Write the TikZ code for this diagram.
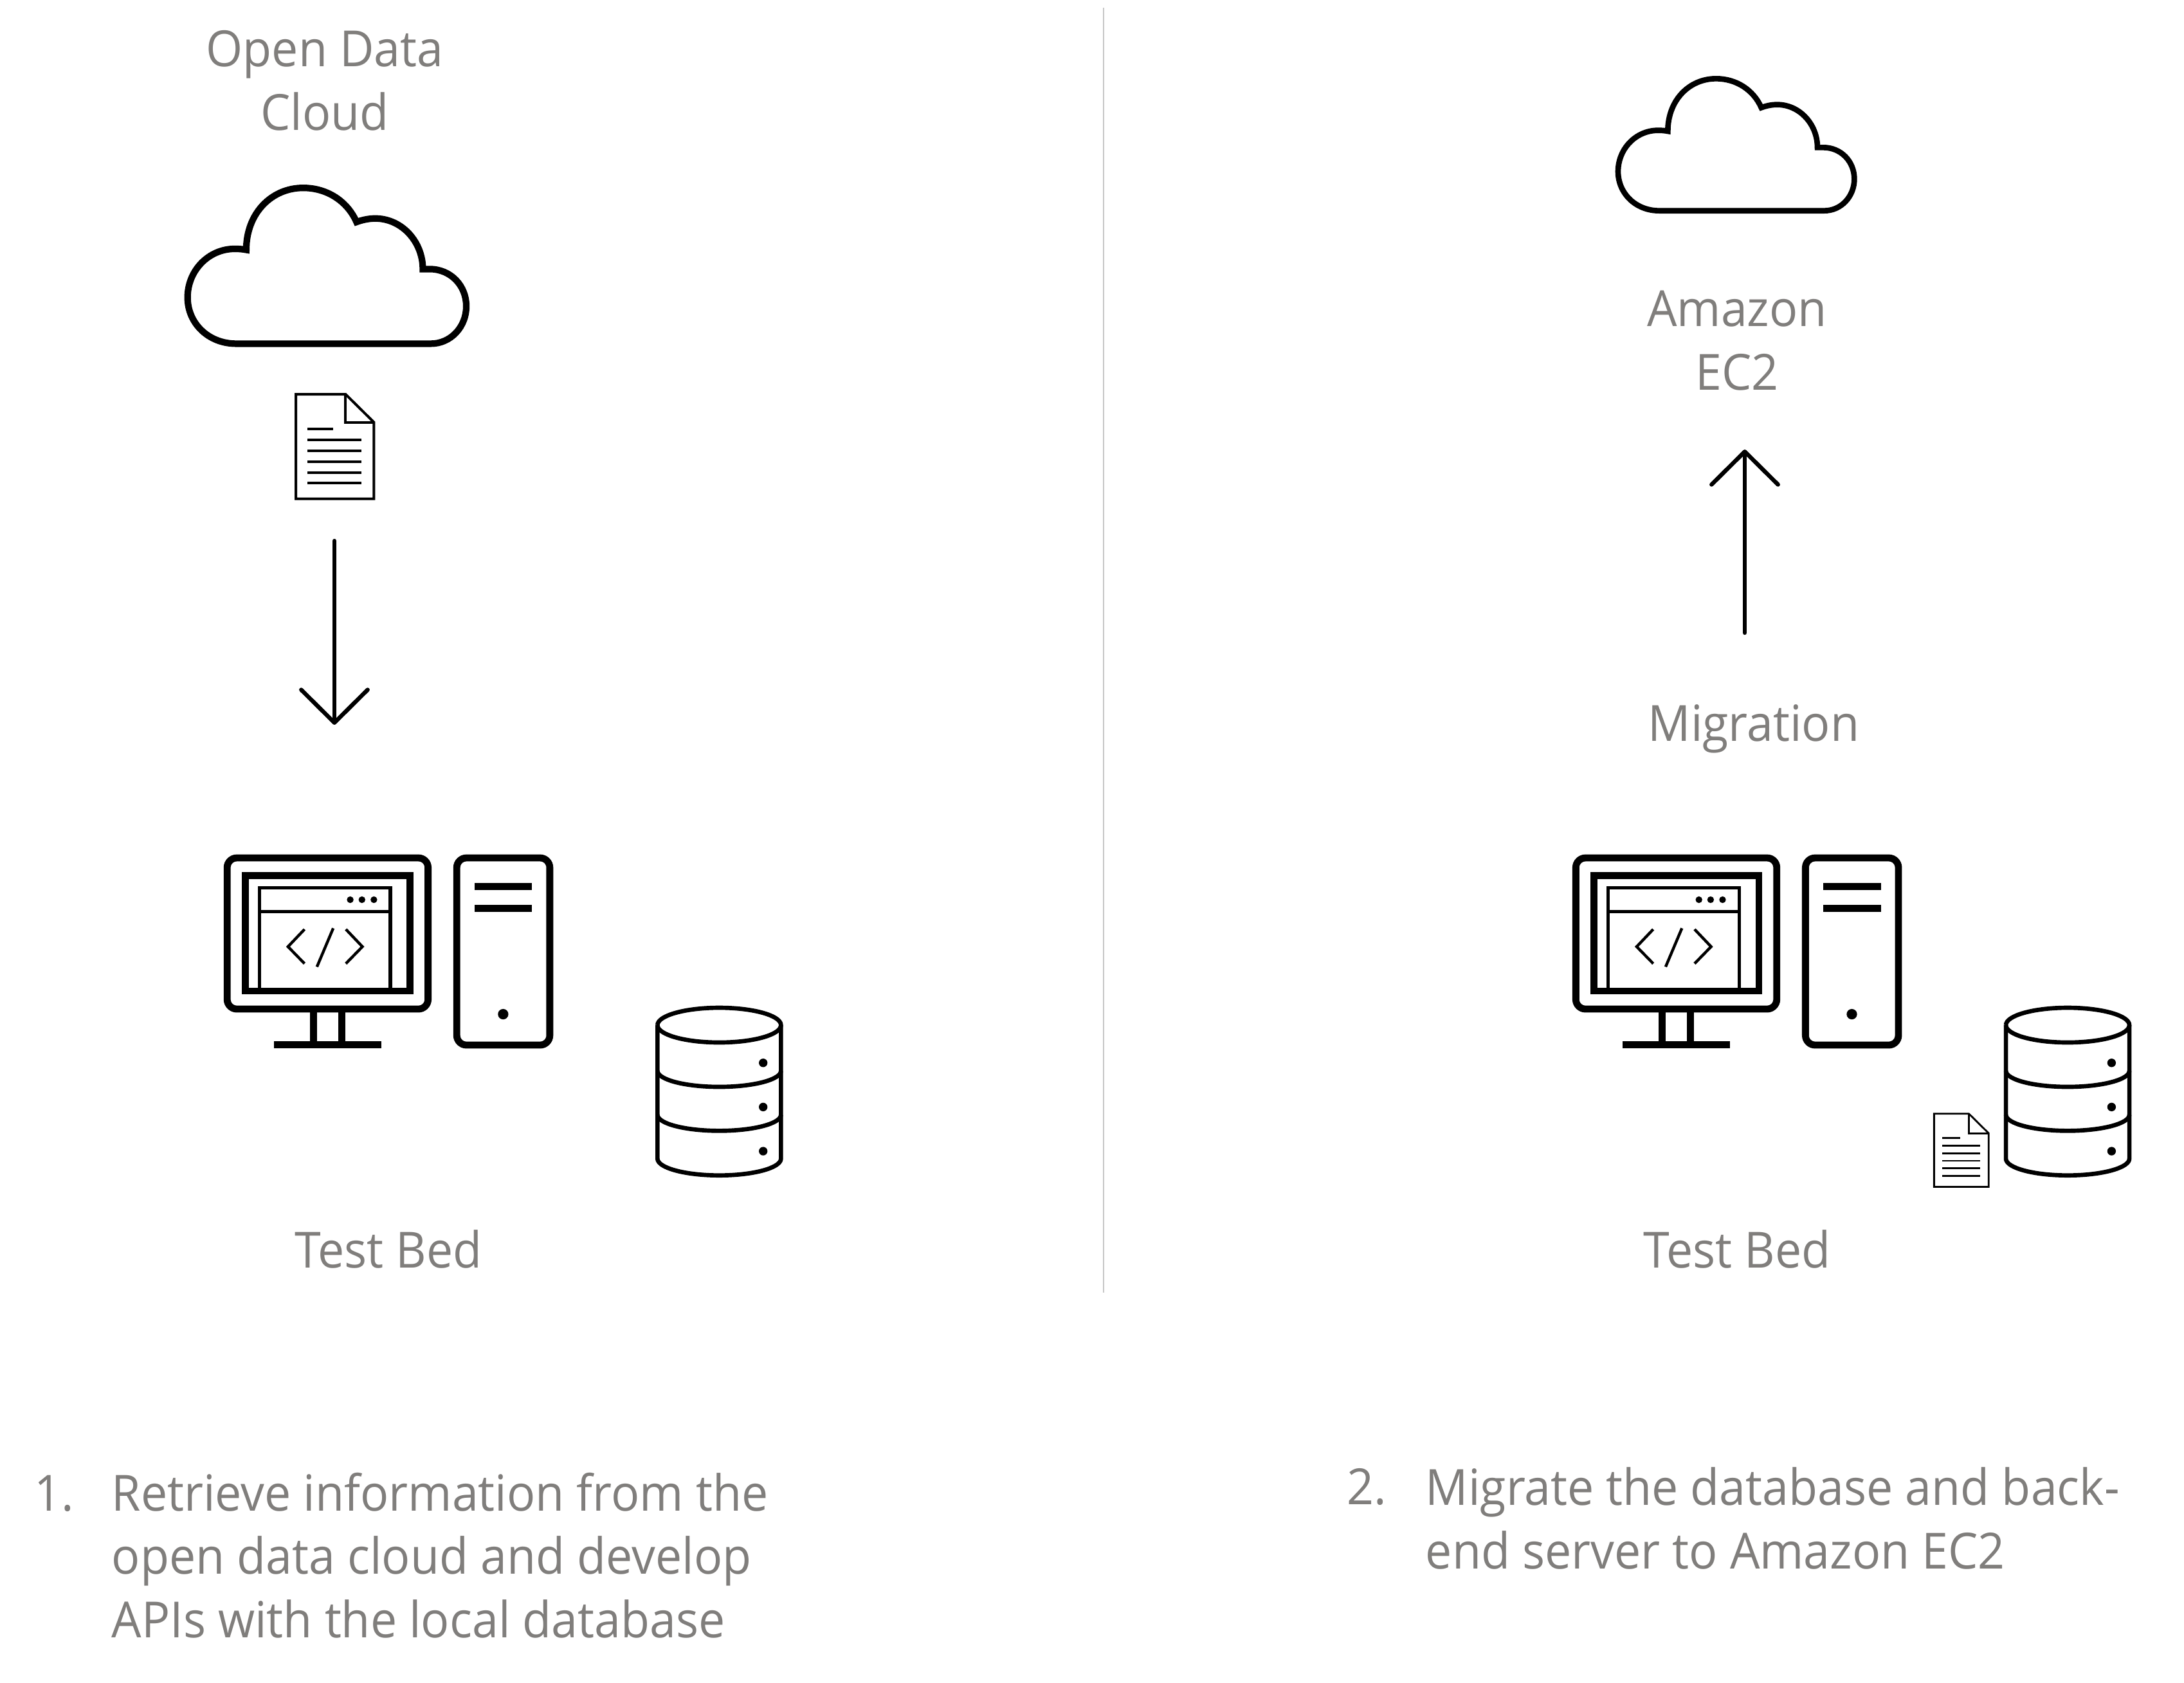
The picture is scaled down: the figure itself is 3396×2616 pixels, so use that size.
\documentclass[tikz,border=0pt]{standalone}
\usepackage{fontspec}
\setmainfont[FakeStretch=0.948]{Open Sans}
\usetikzlibrary{arrows.meta}
\definecolor{txt}{RGB}{128,126,124}
% database icon; local units are 1/3 px
\newcommand{\dbicon}[2]{\begin{scope}[shift={(#1,#2)},x=.08pt,y=-.08pt,line width=1.6pt]
 \draw (127,162) arc[start angle=180,end angle=-180,x radius=288,y radius=81];
 \draw[line join=round] (127,162) -- (127,785) arc[start angle=180,end angle=0,x radius=288,y radius=78] -- (703,162);
 \draw (127,375) arc[start angle=180,end angle=0,x radius=288,y radius=75];
 \draw (127,580) arc[start angle=180,end angle=0,x radius=288,y radius=75];
 \foreach \yy in {338,544,750} \fill (620,\yy) circle[radius=1.6pt];
\end{scope}}
% cloud icon: x0,y0,scale
\newcommand{\cloudicon}[3]{\begin{scope}[shift={(#1,#2)},x=#3*.08pt,y=-#3*.08pt,line width=#3*2.08pt]
 \draw (300,713) -- (1070,713)
  .. controls (1148,713) and (1210,647) .. (1210,565)
  .. controls (1210,483) and (1148,418) .. (1065,418)
  -- (1038,418)
  .. controls (1038,310) and (955,218) .. (850,218)
  .. controls (826,218) and (800,223) .. (776,232)
  .. controls (740,150) and (660,97) .. (565,97)
  .. controls (440,97) and (340,197) .. (340,342)
  .. controls (325,339) and (310,338) .. (295,338)
  .. controls (190,338) and (108,425) .. (108,530)
  .. controls (108,632) and (190,713) .. (300,713) -- cycle;
\end{scope}}
% document icon: x0,y0 (top-left),scale; local units px
\newcommand{\docicon}[3]{\begin{scope}[shift={(#1,#2)},x=#3*.24pt,y=-#3*.24pt,line width=#3*.96pt]
 \draw (0,0) -- (77.3,0) -- (121.3,43.5) -- (121.3,162.5) -- (0,162.5) -- cycle;
 \draw (77.3,0) -- (77.3,44) -- (121.3,44);
 \draw (18.3,54) -- (58.3,54);
 \foreach \yy in {70.9,87.8,104.7,121.5,138.4} \draw (18.3,\yy) -- (102.3,\yy);
\end{scope}}
% computer icon: local x units 1/2.8 px, y units 1/3 px
\newcommand{\pcicon}[2]{\begin{scope}[shift={(#1,#2)},x=.0857pt,y=-.08pt,line width=2.6pt]
 \draw[rounded corners=3.6pt] (65,72) rectangle (940,777);
 \draw (145,155) rectangle (862,693);
 \draw[line width=1.25pt] (206,693) -- (206,212) -- (776,212) -- (776,693);
 \draw[line width=1.25pt] (206,322) -- (776,322);
 \foreach \xx in {601,652,704} \fill (\xx,267) circle[radius=1.25pt];
 \draw[line width=1.05pt] (402,405) -- (330,486) -- (402,565);
 \draw[line width=1.05pt] (527,400) -- (456,580);
 \draw[line width=1.05pt] (582,405) -- (654,486) -- (582,565);
 \draw (441,777) -- (441,930);
 \draw (565,777) -- (565,930);
 \draw[line width=2.7pt] (269,944) -- (737,944);
 \draw[rounded corners=3.6pt] (1065,72) rectangle (1470,945);
 \draw[line width=2.7pt] (1142,206) -- (1393,206);
 \draw[line width=2.7pt] (1142,307) -- (1393,307);
 \fill (1267,801) circle[radius=1.95pt];
\end{scope}}
\begin{document}
\begin{tikzpicture}[x=.24pt,y=-.24pt,
 lbl/.style={text=txt,font=\fontsize{18.6pt}{23.64pt}\selectfont,align=center,inner sep=0pt,anchor=base},
 para/.style={text=txt,font=\fontsize{18.6pt}{23.64pt}\selectfont,align=left,inner sep=0pt,anchor=base west},
 arr/.style={line width=1.55pt,line cap=round,-{Straight Barb[round,length=12.3pt,width=24.8pt,line width=1.55pt]}}]
\useasboundingbox (0,0) rectangle (3396,2616);
\fill[white] (0,0) rectangle (3396,2616);
\draw[black!22,line width=.6pt] (1716,12) -- (1716,2010);
% left panel
\node[lbl] (opendata) at (505,202) {Open Data\\Cloud};
\cloudicon{249.2}{254}{1.18}
\docicon{460}{613}{1}
\coordinate (a1s) at (520,841);
\coordinate (a1e) at (520,1127);
\draw[arr] (a1s) -- (a1e);
\pcicon{330}{1310}
\dbicon{980}{1540}
\node[lbl] (testbedA) at (604,1971) {Test Bed};
% right panel
\cloudicon{2480}{90}{1}
\node[lbl] (amazon) at (2701,606) {Amazon\\EC2};
\coordinate (a2s) at (2713,984);
\coordinate (a2e) at (2713,699);
\draw[arr] (a2s) -- (a2e);
\node[lbl] (migration) at (2727,1152) {Migration};
\pcicon{2427.1}{1310}
\dbicon{3076.7}{1540}
\docicon{3007.3}{1731.7}{.70}
\node[lbl] (testbedB) at (2701,1971) {Test Bed};
% captions
\node[para] (n1) at (53,2349) {1.};
\node[para] (p1) at (173,2546) {Retrieve information from the\\open data cloud and develop\\APIs with the local database};
\node[para] (n2) at (2094,2339) {2.};
\node[para] (p2) at (2216,2439) {Migrate the database and back-\\end server to Amazon EC2};
\end{tikzpicture}
\end{document}
